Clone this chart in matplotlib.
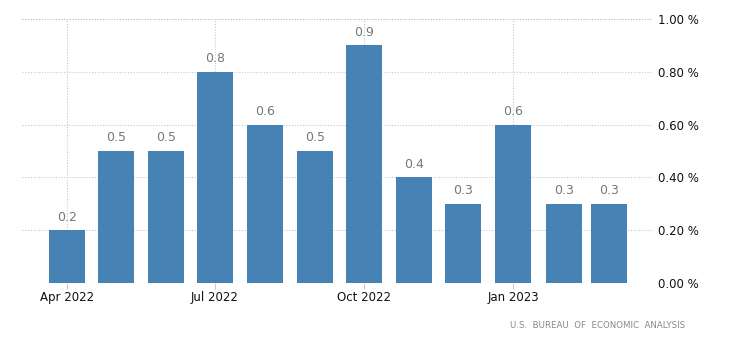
import matplotlib.pyplot as plt
import pandas as pd

months = ['Apr 2022', 'May 2022', 'Jun 2022', 'Jul 2022', 'Aug 2022', 'Sep 2022',
          'Oct 2022', 'Nov 2022', 'Dec 2022', 'Jan 2023', 'Feb 2023', 'Mar 2023']
values = [0.2, 0.5, 0.5, 0.8, 0.6, 0.5, 0.9, 0.4, 0.3, 0.6, 0.3, 0.3]
yticks = [0.0, 0.2, 0.4, 0.6, 0.8, 1.0]
tick_months = ['Apr 2022', 'Jul 2022', 'Oct 2022', 'Jan 2023']

# time axis: days since the first month
dates = pd.to_datetime(months, format='%b %Y')
start = dates[0]
x = [(d - start).days for d in dates]
xt = [(pd.to_datetime(m, format='%b %Y') - start).days for m in tick_months]

fig = plt.figure(figsize=(7.30, 3.49), dpi=100)
ax = fig.add_axes([22 / 730, 1 - 283 / 349, 630 / 730, 264 / 349])

ax.bar(x, values, width=22.2, color='#4682b4', zorder=3)

for xi, v in zip(x, values):
    ax.text(xi, v + 0.025, f'{v:.1f}', ha='center', va='bottom',
            fontsize=9, color='#777777', zorder=4)

ax.set_xlim(-27.7, 360.4)
ax.set_ylim(0, 1.0)

ax.set_yticks(yticks)
ax.set_yticklabels([f'{t:.2f} %' for t in yticks])
ax.yaxis.tick_right()
ax.tick_params(axis='y', length=0, pad=4, labelsize=8.5, labelcolor='#111111')

ax.set_xticks(xt)
ax.set_xticklabels(tick_months)
ax.tick_params(axis='x', length=4, color='#cccccc', pad=2, labelsize=8.5,
               labelcolor='#111111')

ax.grid(True, linestyle=(0, (1, 1.5)), color='#c8c8c8', linewidth=0.8, zorder=0)
ax.axhline(1.0, linestyle=(0, (1, 1.5)), color='#c8c8c8', linewidth=0.8,
           zorder=0, clip_on=False)
for s in ax.spines.values():
    s.set_visible(False)

fig.text(685 / 730, 1 - 325 / 349, 'U.S.  BUREAU  OF  ECONOMIC  ANALYSIS',
         ha='right', va='center', fontsize=6.2, color='#888888')

fig.savefig('out.png', dpi=100)
